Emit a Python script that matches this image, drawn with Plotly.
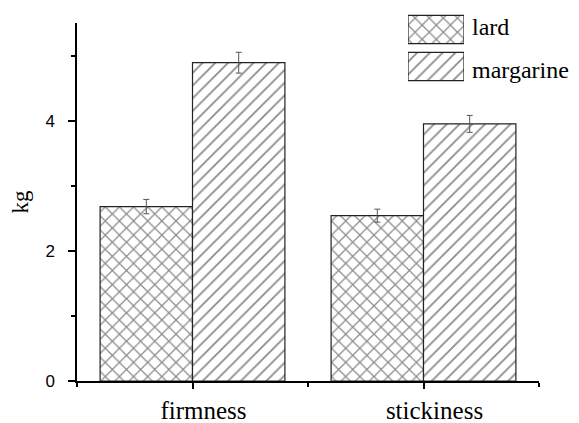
import plotly.graph_objects as go

categories = ["firmness", "stickiness"]
series_names = ["lard", "margarine"]
lard_values = [2.68, 2.54]
lard_errors = [0.11, 0.10]
margarine_values = [4.89, 3.95]
margarine_errors = [0.16, 0.13]
y_tick_vals = [0, 2, 4]

# the page body adds an 8px margin, so the figure is drawn 8px in
OFF = 8
W, H = 579 - OFF, 423 - OFF
ML, MR, MT, MB = 77 - OFF, 40, 2, 42
plot_h = H - MT - MB
main_top_frac = (H - MB - (23 - OFF)) / plot_h

SERIF = "Liberation Serif"
SANS = "Liberation Sans"
LINE = "#222222"

fig = go.Figure()
xs = list(range(len(categories)))

patterns = [dict(shape="x", size=10, solidity=0.24, fgcolor="#1a1a1a", bgcolor="white"),
            dict(shape="/", size=9, solidity=0.2, fgcolor="#1a1a1a", bgcolor="white")]
vals = [lard_values, margarine_values]
errs = [lard_errors, margarine_errors]
offsets = [-0.4, 0.0]

for name, v, e, pat, off in zip(series_names, vals, errs, patterns, offsets):
    fig.add_trace(go.Bar(
        x=xs, y=v, name=name, width=0.4, offset=off,
        marker=dict(color="white", pattern=pat, line=dict(color=LINE, width=1.2)),
        error_y=dict(type="data", array=e, color="#555555", thickness=1, width=3),
        showlegend=False, xaxis="x", yaxis="y"))

# legend swatches drawn as bars on a small auxiliary axis
leg_pos = [1, 0]
for name, pat, p in zip(series_names, patterns, leg_pos):
    fig.add_trace(go.Bar(
        x=[1], y=[p], base=0, orientation="h", width=0.76, name=name,
        marker=dict(color="white", pattern=pat, line=dict(color=LINE, width=1.2)),
        showlegend=False, hoverinfo="skip", xaxis="x2", yaxis="y2"))

# convert reference-picture pixels to paper fractions
px_to_xfrac = lambda px: (px - OFF - ML) / (W - ML - MR)
px_to_yfrac = lambda py: (H - MB - (py - OFF)) / plot_h

fig.update_layout(
    width=W, height=H,
    margin=dict(l=ML, r=MR, t=MT, b=MB),
    paper_bgcolor="white", plot_bgcolor="white",
    barmode="overlay",
    xaxis=dict(range=[-0.5, 1.5], tickvals=xs, ticktext=categories, automargin=False,
               showgrid=False, zeroline=False, showline=True, linecolor="black", linewidth=1.5,
               ticks="outside", ticklen=6, tickcolor="black", tickwidth=1.5,
               minor=dict(tickvals=[-0.5, 0.5, 1.5], ticks="outside", ticklen=4,
                          tickcolor="black", tickwidth=1.5),
               tickfont=dict(family=SERIF, size=25, color="black"),
               ticklabelshift=11, ticklabelstandoff=0),
    yaxis=dict(range=[0, 5.5], tickvals=y_tick_vals, domain=[0, main_top_frac], automargin=False,
               showgrid=False, zeroline=False, showline=True, linecolor="black", linewidth=1.5,
               ticks="outside", ticklen=7, tickcolor="black", tickwidth=1.5,
               minor=dict(dtick=1, tick0=1, ticks="outside", ticklen=4,
                          tickcolor="black", tickwidth=1.5),
               tickfont=dict(family=SANS, size=17, color="black"),
               ticklabelstandoff=10,
               title=dict(text="kg", font=dict(family=SERIF, size=23, color="black"), standoff=22)),
    xaxis2=dict(domain=[px_to_xfrac(408), px_to_xfrac(464)], range=[0, 1], anchor="y2",
                visible=False, fixedrange=True),
    yaxis2=dict(domain=[px_to_yfrac(85), px_to_yfrac(11)], range=[-0.5, 1.5], anchor="x2",
                visible=False, fixedrange=True),
    showlegend=False,
)

for name, ypx in zip(series_names, [27, 70]):
    fig.add_annotation(text=name, xref="paper", yref="paper",
                       x=px_to_xfrac(470), y=px_to_yfrac(ypx), xanchor="left", yanchor="middle",
                       showarrow=False, font=dict(family=SERIF, size=24, color="black"))

fig.write_html("out.html")
